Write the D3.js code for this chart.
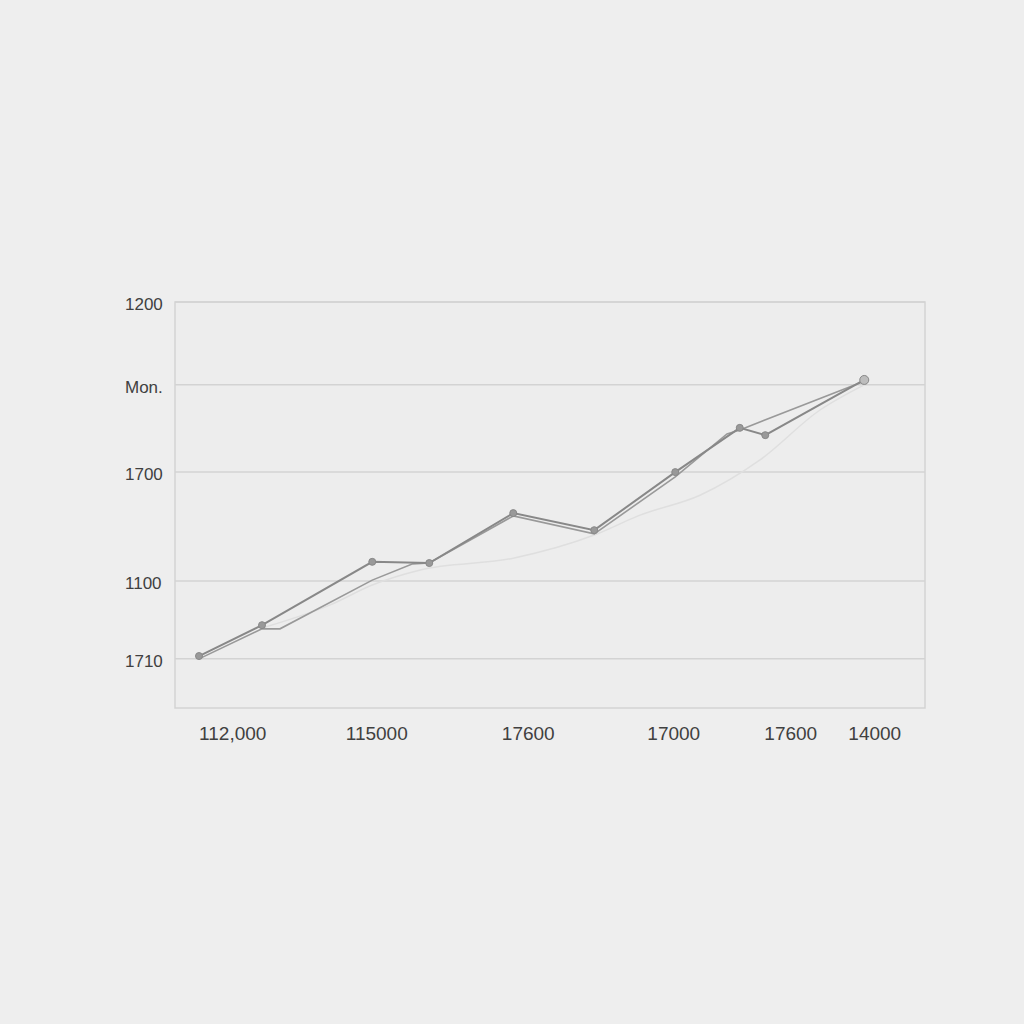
<!DOCTYPE html>
<html>
<head>
<meta charset="utf-8">
<title>Line chart</title>
<script src="https://cdn.jsdelivr.net/npm/d3@7"></script>
<style>
  html, body { margin: 0; padding: 0; background: #eeeeee; }
  svg { display: block; font-family: "Liberation Sans", Arial, sans-serif; }
</style>
</head>
<body>
<svg id="chart" width="1024" height="1024"></svg>
<script>
// tick positions (in chart units) and their printed labels
var yTickValues = [100, 79.6, 58.1, 31.3, 12.1];
var yTickLabels = ["1200", "Mon.", "1700", "1100", "1710"];
var xTickValues = [7.7, 26.9, 47.1, 66.5, 82.1, 93.3];
var xTickLabels = ["112,000", "115000", "17600", "17000", "17600", "14000"];

// main series (with markers)
var seriesAX = [3.2, 11.6, 26.3, 33.9, 45.1, 55.9, 66.7, 75.3, 78.7, 91.9];
var seriesAY = [12.8, 20.4, 36.0, 35.7, 48.0, 43.8, 58.1, 69.0, 67.2, 80.8];

// companion series
var seriesBX = [3.2, 11.6, 14.0, 26.3, 31.7, 33.9, 45.1, 55.9, 66.7, 73.6, 75.3, 91.9];
var seriesBY = [12.1, 19.5, 19.5, 31.5, 35.5, 35.7, 47.3, 42.9, 56.9, 67.5, 68.5, 80.5];

// faint trend
var seriesCX = [11.6, 20.7, 26.3, 32.7, 45.1, 55.9, 62.0, 70.0, 78.0, 86.0, 91.9];
var seriesCY = [19.7, 25.4, 30.3, 34.0, 36.9, 42.6, 47.5, 52.4, 61.1, 73.4, 79.6];

var svg = d3.select("#chart");
var plotLeft = 175, plotRight = 925, plotTop = 302, plotBottom = 708;

var x = d3.scaleLinear().domain([0, 100]).range([plotLeft, plotRight]);
var y = d3.scaleLinear().domain([0, 100]).range([plotBottom, plotTop]);

function pts(xs, ys) { return xs.map(function(v, i) { return [v, ys[i]]; }); }

// frame
svg.append("rect")
   .attr("x", plotLeft).attr("y", plotTop)
   .attr("width", plotRight - plotLeft).attr("height", plotBottom - plotTop)
   .attr("fill", "#ededed")
   .attr("stroke", "#d3d3d3")
   .attr("stroke-width", 1.5);

// gridlines + y labels
svg.selectAll(".grid")
   .data(yTickValues)
   .enter().append("line")
   .attr("x1", plotLeft).attr("x2", plotRight)
   .attr("y1", function(d) { return y(d); })
   .attr("y2", function(d) { return y(d); })
   .attr("stroke", "#d3d3d3")
   .attr("stroke-width", 1.5);

svg.selectAll(".ylab")
   .data(yTickValues)
   .enter().append("text")
   .attr("x", 125)
   .attr("y", function(d) { return y(d) + 8; })
   .attr("fill", "#404040")
   .style("font-size", "17px")
   .text(function(d, i) { return yTickLabels[i]; });

// x labels
svg.selectAll(".xlab")
   .data(xTickValues)
   .enter().append("text")
   .attr("x", function(d) { return x(d); })
   .attr("y", 740)
   .attr("text-anchor", "middle")
   .attr("fill", "#404040")
   .style("font-size", "19px")
   .text(function(d, i) { return xTickLabels[i]; });

var line = d3.line().x(function(d) { return x(d[0]); }).y(function(d) { return y(d[1]); });
var smooth = d3.line().curve(d3.curveMonotoneX)
   .x(function(d) { return x(d[0]); }).y(function(d) { return y(d[1]); });

svg.append("path")
   .attr("d", smooth(pts(seriesCX, seriesCY)))
   .attr("fill", "none")
   .attr("stroke", "#dfdfdf")
   .attr("stroke-width", 1.5);

svg.append("path")
   .attr("d", line(pts(seriesBX, seriesBY)))
   .attr("fill", "none")
   .attr("stroke", "#999999")
   .attr("stroke-width", 1.6);

svg.append("path")
   .attr("d", line(pts(seriesAX, seriesAY)))
   .attr("fill", "none")
   .attr("stroke", "#888888")
   .attr("stroke-width", 2);

svg.selectAll(".dot")
   .data(pts(seriesAX, seriesAY))
   .enter().append("circle")
   .attr("cx", function(d) { return x(d[0]); })
   .attr("cy", function(d) { return y(d[1]); })
   .attr("r", function(d, i) { return i === seriesAX.length - 1 ? 4.5 : 3.5; })
   .attr("fill", function(d, i) { return i === seriesAX.length - 1 ? "#bdbdbd" : "#999999"; })
   .attr("stroke", "#888888")
   .attr("stroke-width", 1);
</script>
</body>
</html>
